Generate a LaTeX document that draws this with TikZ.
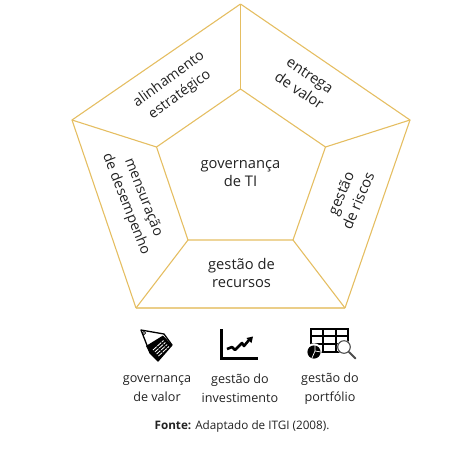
\documentclass[tikz,border=0pt]{standalone}
\usepackage{fontspec}
\usetikzlibrary{calc}
\setmainfont{Open Sans}
\definecolor{gold}{HTML}{E5BE62}
\definecolor{ink}{HTML}{222222}
\tikzset{
  edge/.style={draw=gold,line width=1.1pt,line join=miter},
  lab/.style={align=center,text=ink,font=\fontsize{14.7}{18.8}\selectfont,inner sep=0pt},
  labsmall/.style={lab,font=\fontsize{14.2}{18.8}\selectfont},
  captxt/.style={align=center,text=ink,font=\fontsize{12.6}{19}\selectfont,inner sep=0pt},
}
\begin{document}
\begin{tikzpicture}[x=1pt,y=-1pt]
\useasboundingbox (0,0) rectangle (455,451);
\coordinate (o1) at (240.5,4);
\coordinate (o2) at (410,120);
\coordinate (o3) at (345,308);
\coordinate (o4) at (136,308);
\coordinate (o5) at (72,120);
\coordinate (i1) at (240.5,89);
\coordinate (i2) at (325.5,147);
\coordinate (i3) at (293,240);
\coordinate (i4) at (188,240);
\coordinate (i5) at (156.5,147);
\draw[edge] (o1)--(o2)--(o3);
\draw[edge] (o4)--(o5)--(o1);
\draw[edge,line width=1.8pt,draw=gold!75] (o3)--(o4);
\draw[edge] (i1)--(i2)--(i3)--(i4)--(i5)--cycle;
\foreach \n in {1,...,5}{\draw[edge] (o\n)--(i\n);}
\node[lab] (c) at (240.5,173.5) {governança\\de TI};
\node[labsmall,rotate=36] (a) at (174.5,87) {alinhamento\\estratégico};
\node[lab,rotate=-34] (b) at (304.5,83) {entrega\\de valor};
\node[lab,rotate=67] (r) at (349.5,197) {gestão\\de riscos};
\node[labsmall,rotate=-68.5] (m) at (134.5,201) {mensuração\\de desempenho};
\node[lab] (g) at (241.5,273) {gestão de\\recursos};
\node[captxt] (c1) at (157,389) {governança\\de valor};
\node[captxt] (c2) at (240,388) {gestão do\\investimento};
\node[captxt] (c3) at (330,389) {gestão do\\portfólio};
\node[inner sep=0pt,text=ink,font=\fontsize{11.7}{13}\selectfont] (f) at (242,426) {\textbf{Fonte:} Adaptado de ITGI (2008).};
% tag icon
\draw[black,line width=1.3pt,line join=round] (141,330) -- (164,334) -- (172,345) -- (158,361) -- (150,353) -- cycle;
\fill[black,line join=round] (146,346) -- (163,335.5) -- (172,345) -- (158,361) -- (150,353) -- cycle;
\draw[black,line width=.8pt] (144,333) circle (1.6);
\foreach \t in {0,1,2,3}{\draw[white,line width=.8pt,dash pattern=on 5pt off 1pt] ($(153,350)!\t/3!(158.5,356)$) -- ++(10.5,-9.5);}
% chart icon
\draw[black,line width=3.2pt] (221.5,329) -- (221.5,358.5) -- (258,358.5);
\draw[black,line width=2.6pt,line join=round] (227,349) -- (232,347) -- (235,350) -- (242,343) -- (244,346) -- (249,340);
\fill[black] (253,336.5) -- (246.5,338) -- (251.5,343) -- cycle;
% grid icon
\draw[black,line width=2pt] (311,329) rectangle (348,352);
\draw[black,line width=1.8pt] (311,336) -- (348,336) (311,344) -- (348,344) (323,329) -- (323,352) (336,329) -- (336,352);
\fill[white] (344,347) circle (7.2);
\draw[black!75,line width=1pt] (344,347) circle (6.3);
\draw[black!70,line width=1.8pt,line cap=round] (349,352) -- (355.5,358.5);
\fill[white] (314,351) circle (7.8);
\fill[black] (314,352) circle (6.6);
\draw[white,line width=.7pt] (315,351) -- (315,345) (315,351) -- (321,352) (315,351) -- (312,358);
\end{tikzpicture}
\end{document}
